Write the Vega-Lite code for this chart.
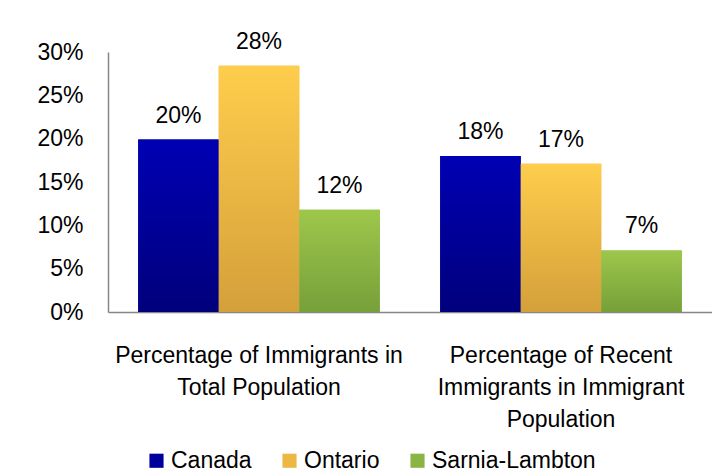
{
  "$schema": "https://vega.github.io/schema/vega-lite/v6.json",
  "width": 604,
  "height": 260,
  "autosize": "none",
  "padding": {"left": 108, "top": 52, "right": 0, "bottom": 162},
  "background": "white",
  "config": {
    "view": {"stroke": null},
    "font": "Liberation Sans",
    "axis": {"labelFont": "Liberation Sans", "labelColor": "#000000", "grid": false, "ticks": false, "domainColor": "#868686", "domainWidth": 1.5, "title": null},
    "legend": {"labelFont": "Liberation Sans", "labelColor": "#000000"}
  },
  "data": {
    "values": [
      {"measure": "Percentage of Immigrants in Total Population", "region": "Canada", "pct": 0.199},
      {"measure": "Percentage of Immigrants in Total Population", "region": "Ontario", "pct": 0.284},
      {"measure": "Percentage of Immigrants in Total Population", "region": "Sarnia-Lambton", "pct": 0.118},
      {"measure": "Percentage of Recent Immigrants in Immigrant Population", "region": "Canada", "pct": 0.18},
      {"measure": "Percentage of Recent Immigrants in Immigrant Population", "region": "Ontario", "pct": 0.171},
      {"measure": "Percentage of Recent Immigrants in Immigrant Population", "region": "Sarnia-Lambton", "pct": 0.071}
    ]
  },
  "encoding": {
    "x": {
      "field": "measure", "type": "nominal", "sort": null,
      "scale": {"paddingInner": 0.2, "paddingOuter": 0.1},
      "axis": {
        "labelAngle": 0, "labelFontSize": 23, "labelPadding": 32, "labelLineHeight": 32, "labelLimit": 400,
        "labelExpr": "datum.value == 'Percentage of Immigrants in Total Population' ? ['Percentage of Immigrants in', 'Total Population'] : ['Percentage of Recent', 'Immigrants in Immigrant', 'Population']"
      }
    },
    "xOffset": {"field": "region", "type": "nominal", "sort": ["Canada", "Ontario", "Sarnia-Lambton"], "scale": {"paddingInner": 0, "paddingOuter": 0}},
    "y": {
      "field": "pct", "type": "quantitative",
      "scale": {"domain": [0, 0.3], "nice": false},
      "axis": {"values": [0, 0.05, 0.1, 0.15, 0.2, 0.25, 0.3], "format": ".0%", "labelFontSize": 23, "labelPadding": 25}
    }
  },
  "layer": [
    {
      "mark": {"type": "bar"},
      "encoding": {
        "color": {
          "field": "region", "type": "nominal", "sort": ["Canada", "Ontario", "Sarnia-Lambton"],
          "scale": {"range": ["#00009C", "#EDB744", "#8AB545"]},
          "legend": {
            "orient": "none", "direction": "horizontal", "legendX": 37, "legendY": 397, "title": null,
            "symbolType": "square", "symbolSize": 200, "symbolStrokeWidth": 0, "labelFontSize": 23, "labelOffset": 3, "columnPadding": 26, "labelLimit": 400
          }
        }
      }
    },
    {
      "transform": [{"filter": "datum.region === 'Canada'"}],
      "mark": {"type": "bar", "color": {"gradient": "linear", "x1": 0, "y1": 0, "x2": 0, "y2": 1, "stops": [{"offset": 0, "color": "#0000B4"}, {"offset": 1, "color": "#00007C"}]}}
    },
    {
      "transform": [{"filter": "datum.region === 'Ontario'"}],
      "mark": {"type": "bar", "color": {"gradient": "linear", "x1": 0, "y1": 0, "x2": 0, "y2": 1, "stops": [{"offset": 0, "color": "#FFCD4C"}, {"offset": 1, "color": "#D4A03A"}]}}
    },
    {
      "transform": [{"filter": "datum.region === 'Sarnia-Lambton'"}],
      "mark": {"type": "bar", "color": {"gradient": "linear", "x1": 0, "y1": 0, "x2": 0, "y2": 1, "stops": [{"offset": 0, "color": "#9DC74B"}, {"offset": 1, "color": "#76A039"}]}}
    },
    {
      "mark": {"type": "text", "baseline": "alphabetic", "dy": -17, "fontSize": 23, "color": "#000000"},
      "encoding": {"text": {"field": "pct", "type": "quantitative", "format": ".0%"}}
    }
  ]
}
